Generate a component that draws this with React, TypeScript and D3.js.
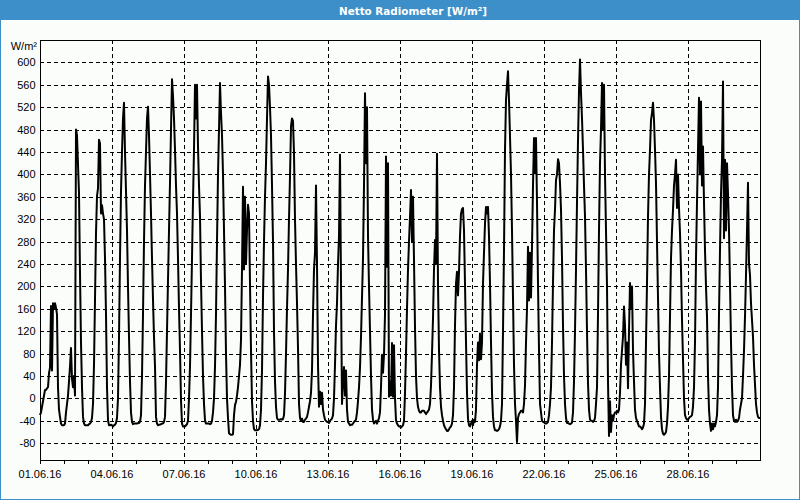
import React from "react";
import * as d3 from "d3";

// Hourly net radiation values [W/m²], one array per day (00:00 .. 23:00)
const jun01 = [-30, -25, -15, -5, 5, 15, 15, 18, 20, 45, 55, 165, 50, 170, 160, 170, 162, 150, 20, -20, -33, -45, -48, -48];
const jun02 = [-48, -45, -25, -10, 5, 30, 57, 90, 35, 20, 40, 5, 480, 470, 417, 367, 224, 100, 20, -33, -45, -48, -48, -48];
const jun03 = [-48, -46, -45, -42, -35, -10, 60, 176, 295, 361, 375, 462, 455, 330, 345, 330, 320, 250, 150, 20, -39, -48, -48, -47];
const jun04 = [-48, -50, -48, -47, -44, -35, 0, 110, 250, 370, 440, 500, 528, 440, 370, 300, 200, 110, 30, -25, -42, -46, -45, -45];
const jun05 = [-45, -45, -44, -44, -42, -30, 40, 150, 280, 380, 440, 500, 521, 470, 400, 330, 250, 176, 110, 57, -33, -45, -48, -47];
const jun06 = [-47, -46, -45, -45, -42, -33, 30, 120, 210, 300, 385, 480, 570, 540, 500, 444, 380, 330, 250, 160, 86, -3, -45, -50];
const jun07 = [-50, -50, -48, -46, -40, 0, 57, 150, 250, 354, 444, 560, 500, 560, 450, 380, 325, 210, 120, 40, -10, -39, -45, -45];
const jun08 = [-45, -45, -46, -45, -40, -25, 0, 57, 150, 280, 400, 480, 563, 510, 470, 400, 300, 200, 80, 0, -35, -62, -64, -65];
const jun09 = [-65, -64, -30, -12, -6, 5, 20, 40, 60, 104, 230, 378, 230, 360, 240, 300, 346, 330, 205, 86, -5, -40, -55, -57];
const jun10 = [-57, -57, -56, -55, -48, -20, 50, 180, 280, 360, 420, 500, 575, 560, 520, 470, 380, 280, 120, 30, -15, -35, -38, -38];
const jun11 = [-38, -37, -38, -37, -30, 9, 80, 160, 230, 320, 396, 486, 500, 495, 438, 319, 240, 170, 90, -10, -35, -40, -36, -42];
const jun12 = [-42, -38, -36, -33, -25, -15, -5, 10, 50, 150, 230, 260, 380, 240, 60, -15, 12, -10, 10, -20, -30, -38, -40, -42];
const jun13 = [-42, -44, -40, -38, -36, -30, 0, 60, 130, 170, 240, 290, 435, 205, -10, 30, 56, 5, 50, -20, -42, -45, -48, -47];
const jun14 = [-47, -45, -42, -40, -38, -25, -5, 20, 55, 110, 180, 250, 380, 545, 420, 520, 290, 200, 120, 40, -20, -38, -45, -42];
const jun15 = [-40, -45, -40, -35, -25, 20, 78, 46, 78, 150, 432, 235, 420, 3, 30, 5, 99, 3, 95, 0, -39, -45, -48, -50];
const jun16 = [-50, -52, -50, -48, -40, 9, 80, 160, 230, 280, 324, 372, 280, 360, 247, 127, 40, 0, -15, -22, -25, -25, -22, -22];
const jun17 = [-22, -25, -28, -25, -23, -20, -10, 23, 80, 143, 230, 283, 240, 437, 205, 86, 20, -15, -30, -40, -48, -52, -55, -58];
const jun18 = [-58, -55, -52, -50, -45, -30, 20, 130, 205, 226, 184, 226, 290, 330, 338, 340, 300, 205, 100, 10, -36, -48, -50, -45];
const jun19 = [-40, -48, -38, -42, -20, 60, 100, 68, 116, 70, 100, 205, 260, 312, 342, 330, 342, 290, 205, 100, 10, -33, -50, -57];
const jun20 = [-57, -58, -57, -55, -50, -40, -10, 120, 265, 444, 533, 560, 584, 533, 468, 400, 300, 180, 60, -10, -40, -78, -35, -28];
const jun21 = [-25, -22, -22, -25, -10, 23, 100, 160, 271, 175, 260, 180, 271, 380, 465, 402, 465, 350, 205, 86, -10, -25, -40, -42];
const jun22 = [-42, -45, -45, -44, -42, -30, -10, 20, 100, 206, 300, 337, 390, 400, 427, 420, 384, 337, 250, 130, 40, -10, -35, -44];
const jun23 = [-44, -45, -46, -45, -43, -25, 30, 120, 230, 350, 460, 550, 605, 545, 500, 444, 380, 325, 230, 120, 27, -20, -38, -40];
const jun24 = [-40, -42, -40, -35, -10, 20, 150, 300, 420, 480, 563, 480, 560, 400, 300, 200, 30, -67, -5, -60, -30, -40, -30, -25];
const jun25 = [-25, -22, -25, -20, 10, 60, 86, 110, 164, 130, 60, 100, 18, 120, 206, 160, 200, 86, 30, -20, -35, -40, -45, -50];
const jun26 = [-50, -52, -55, -52, -45, -10, 100, 205, 325, 400, 444, 497, 510, 528, 497, 444, 384, 280, 180, 80, 20, -33, -55, -63];
const jun27 = [-65, -63, -60, -45, -15, 40, 146, 250, 300, 337, 380, 400, 426, 340, 400, 340, 295, 230, 140, 70, 0, -30, -35, -38];
const jun28 = [-38, -35, -33, -32, -30, -15, 20, 100, 250, 350, 444, 537, 400, 530, 380, 450, 350, 265, 200, 146, 40, -20, -45, -58];
const jun29 = [-45, -55, -45, -50, -42, -30, 20, 150, 265, 366, 426, 566, 286, 426, 300, 420, 366, 300, 205, 100, 20, -30, -40, -42];
const jun30 = [-38, -42, -40, -35, -20, -10, 0, 40, 86, 146, 220, 300, 385, 241, 220, 170, 140, 110, 60, 25, -10, -25, -33, -35];
const jul01 = [-35];

const dayArrays = [
  jun01, jun02, jun03, jun04, jun05, jun06, jun07, jun08, jun09, jun10,
  jun11, jun12, jun13, jun14, jun15, jun16, jun17, jun18, jun19, jun20,
  jun21, jun22, jun23, jun24, jun25, jun26, jun27, jun28, jun29, jun30, jul01,
];

const yTickValues = [-80, -40, 0, 40, 80, 120, 160, 200, 240, 280, 320, 360, 400, 440, 480, 520, 560, 600];
const xLabelDays = ["2016-06-01", "2016-06-04", "2016-06-07", "2016-06-10", "2016-06-13", "2016-06-16", "2016-06-19", "2016-06-22", "2016-06-25", "2016-06-28"];
const title = "Netto Radiometer [W/m²]";
const unitLabel = "W/m²";

const W = 800;
const H = 500;
const M = { left: 40, right: 760, top: 40, bottom: 460 };
const BLUE = "#3c8fc8";
const BG = "#fbfdfb";

export default function App() {
  const start = new Date(Date.UTC(2016, 5, 1));
  const end = new Date(Date.UTC(2016, 6, 1));
  const x = d3.scaleUtc().domain([start, end]).range([M.left, M.right]);
  const y = d3.scaleLinear().domain([-110, 640]).range([M.bottom, M.top]);

  const values: number[] = dayArrays.flat();
  const points = values.map((v, i) => ({ t: d3.utcHour.offset(start, i), v }));
  const line = d3
    .line<{ t: Date; v: number }>()
    .x((d) => x(d.t))
    .y((d) => y(d.v));

  const dayTicks = d3.utcDay.range(start, end);
  const gridDays = xLabelDays.slice(1).map((s) => new Date(s + "T00:00:00Z"));
  const fmt = d3.utcFormat("%d.%m.%y");
  const px = (v: number) => Math.round(v) + 0.5;

  return (
    <svg
      width={W}
      height={H}
      style={{ position: "absolute", left: 0, top: 0, display: "block" }}
      fontFamily="'Liberation Sans', Arial, sans-serif"
    >
      <rect x={0.5} y={0.5} width={W - 1} height={H - 1} fill={BG} stroke={BLUE} strokeWidth={1} />
      <rect x={0} y={0} width={W} height={20} fill={BLUE} />
      <text
        x={413}
        y={14.5}
        textAnchor="middle"
        fill="#ffffff"
        fontFamily="'DejaVu Sans', sans-serif"
        fontWeight="bold"
        fontSize={11}
        textLength={148}
        lengthAdjust="spacingAndGlyphs"
      >
        {title}
      </text>

      <text x={37} y={50} textAnchor="end" fontSize={11} fill="#000">
        {unitLabel}
      </text>

      <g shapeRendering="crispEdges">
        {yTickValues.map((v) => (
          <line
            key={"hg" + v}
            x1={M.left}
            x2={M.right}
            y1={px(y(v))}
            y2={px(y(v))}
            stroke="#000"
            strokeWidth={1}
            strokeDasharray="4,3"
          />
        ))}
        {gridDays.map((d) => (
          <line
            key={"vg" + d.toISOString()}
            x1={px(x(d))}
            x2={px(x(d))}
            y1={M.top}
            y2={M.bottom}
            stroke="#000"
            strokeWidth={1}
            strokeDasharray="4,3"
          />
        ))}
        {dayTicks.map((d) => (
          <line
            key={"t" + d.toISOString()}
            x1={px(x(d))}
            x2={px(x(d))}
            y1={M.bottom}
            y2={M.bottom + 4}
            stroke="#000"
            strokeWidth={1}
          />
        ))}
      </g>

      {yTickValues.map((v) => (
        <text key={"yl" + v} x={35.5} y={y(v) + 4} textAnchor="end" fontSize={11} fill="#000">
          {v}
        </text>
      ))}

      {xLabelDays.map((s) => {
        const d = new Date(s + "T00:00:00Z");
        return (
          <text key={"xl" + s} x={x(d)} y={478} textAnchor="middle" fontSize={11} fill="#000">
            {fmt(d)}
          </text>
        );
      })}

      <path d={line(points) || ""} fill="none" stroke="#000" strokeWidth={2} strokeLinejoin="round" />

      <rect
        x={M.left + 0.5}
        y={M.top + 0.5}
        width={M.right - M.left}
        height={M.bottom - M.top}
        fill="none"
        stroke="#000"
        strokeWidth={1}
        shapeRendering="crispEdges"
      />
    </svg>
  );
}
